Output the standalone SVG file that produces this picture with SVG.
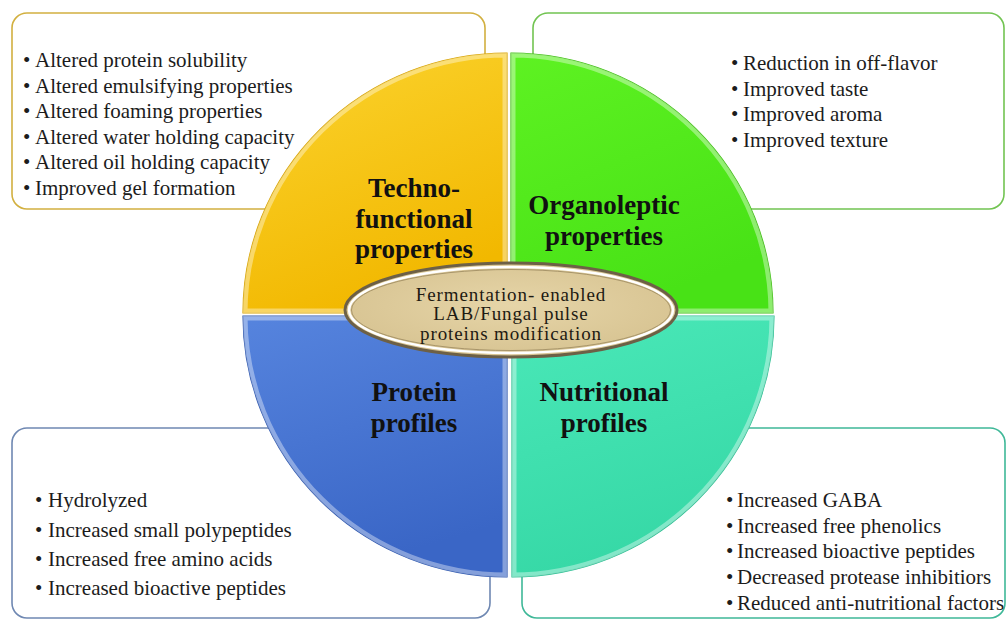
<svg xmlns="http://www.w3.org/2000/svg" width="1006" height="619" viewBox="0 0 1006 619">
  <defs>
    <style>
      .box { fill: #ffffff; stroke-width: 1.6; }
      .item { font-family: "Liberation Serif", "Times New Roman", serif; font-size: 21px; fill: #1c1c1c; }
      .title { font-family: "Liberation Serif", "Times New Roman", serif; font-size: 27px; font-weight: bold; fill: #111111; text-anchor: middle; }
      .core { font-family: "Liberation Serif", "Times New Roman", serif; font-size: 19px; letter-spacing: 0.9px; fill: #1e1a12; text-anchor: middle; }
      .bevel { fill: none; stroke: #ffffff; stroke-opacity: 0.38; stroke-width: 9; }
    </style>
    <linearGradient id="gYellow" x1="0" y1="0" x2="0.4" y2="1">
      <stop offset="0" stop-color="#fbd430"/>
      <stop offset="1" stop-color="#f2b800"/>
    </linearGradient>
    <linearGradient id="gGreen" x1="0" y1="0" x2="0.4" y2="1">
      <stop offset="0" stop-color="#5ef222"/>
      <stop offset="1" stop-color="#48e216"/>
    </linearGradient>
    <linearGradient id="gBlue" x1="0" y1="0" x2="0.3" y2="1">
      <stop offset="0" stop-color="#5684de"/>
      <stop offset="1" stop-color="#3a66c6"/>
    </linearGradient>
    <linearGradient id="gTeal" x1="0" y1="0" x2="0.3" y2="1">
      <stop offset="0" stop-color="#4ae8b8"/>
      <stop offset="1" stop-color="#36d8a6"/>
    </linearGradient>
    <radialGradient id="gCore" cx="0.5" cy="0.45" r="0.6">
      <stop offset="0" stop-color="#e6d5a8"/>
      <stop offset="1" stop-color="#d6c290"/>
    </radialGradient>
    <path id="pYellow" d="M507,313 L243,313 A264,260 0 0 1 507,53 Z"/>
    <path id="pGreen" d="M511,313 L511,53 A262,260 0 0 1 773,313 Z"/>
    <path id="pBlue" d="M507,316 L507,577 A264,261 0 0 1 243,316 Z"/>
    <path id="pTeal" d="M512,316 L774,316 A262,261 0 0 1 512,577 Z"/>
    <clipPath id="cYellow"><use href="#pYellow"/></clipPath>
    <clipPath id="cGreen"><use href="#pGreen"/></clipPath>
    <clipPath id="cBlue"><use href="#pBlue"/></clipPath>
    <clipPath id="cTeal"><use href="#pTeal"/></clipPath>
  </defs>

  <rect width="1006" height="619" fill="#ffffff"/>

  <!-- callout boxes sit behind the wheel -->
  <g id="box-techno">
    <rect class="box" x="12" y="13" width="473" height="196" rx="15" stroke="#d2b040"/>
    <text class="item" x="23" y="67"><tspan>•</tspan><tspan x="35">Altered protein solubility</tspan></text>
    <text class="item" x="23" y="93"><tspan>•</tspan><tspan x="35">Altered emulsifying properties</tspan></text>
    <text class="item" x="23" y="118"><tspan>•</tspan><tspan x="35">Altered foaming properties</tspan></text>
    <text class="item" x="23" y="144"><tspan>•</tspan><tspan x="35">Altered water holding capacity</tspan></text>
    <text class="item" x="23" y="169"><tspan>•</tspan><tspan x="35">Altered oil holding capacity</tspan></text>
    <text class="item" x="23" y="195"><tspan>•</tspan><tspan x="35">Improved gel formation</tspan></text>
  </g>

  <g id="box-organoleptic">
    <rect class="box" x="533" y="13" width="471" height="196" rx="15" stroke="#72c452"/>
    <text class="item" x="731" y="70"><tspan>•</tspan><tspan x="743">Reduction in off-flavor</tspan></text>
    <text class="item" x="731" y="96"><tspan>•</tspan><tspan x="743">Improved taste</tspan></text>
    <text class="item" x="731" y="121"><tspan>•</tspan><tspan x="743">Improved aroma</tspan></text>
    <text class="item" x="731" y="147"><tspan>•</tspan><tspan x="743">Improved texture</tspan></text>
  </g>

  <g id="box-protein">
    <rect class="box" x="12" y="428" width="478" height="190" rx="15" stroke="#6f88b2"/>
    <text class="item" x="35" y="507"><tspan>•</tspan><tspan x="48">Hydrolyzed</tspan></text>
    <text class="item" x="35" y="537"><tspan>•</tspan><tspan x="48">Increased small polypeptides</tspan></text>
    <text class="item" x="35" y="566"><tspan>•</tspan><tspan x="48">Increased free amino acids</tspan></text>
    <text class="item" x="35" y="595"><tspan>•</tspan><tspan x="48">Increased bioactive peptides</tspan></text>
  </g>

  <g id="box-nutritional">
    <rect class="box" x="522" y="428" width="483" height="190" rx="15" stroke="#3fb898"/>
    <text class="item" x="726" y="507"><tspan>•</tspan><tspan x="737">Increased GABA</tspan></text>
    <text class="item" x="726" y="533"><tspan>•</tspan><tspan x="737">Increased free phenolics</tspan></text>
    <text class="item" x="726" y="558"><tspan>•</tspan><tspan x="737">Increased bioactive peptides</tspan></text>
    <text class="item" x="726" y="584"><tspan>•</tspan><tspan x="737">Decreased protease inhibitiors</tspan></text>
    <text class="item" x="726" y="610"><tspan>•</tspan><tspan x="737">Reduced anti-nutritional factors</tspan></text>
  </g>

  <!-- four bevelled quadrants of the wheel -->
  <g id="sector-techno">
    <use href="#pYellow" fill="url(#gYellow)" stroke="#d9a400" stroke-width="1.2"/>
    <use href="#pYellow" class="bevel" clip-path="url(#cYellow)"/>
    <text class="title" x="414" y="197">Techno-</text>
    <text class="title" x="414" y="228">functional</text>
    <text class="title" x="414" y="258">properties</text>
  </g>

  <g id="sector-organoleptic">
    <use href="#pGreen" fill="url(#gGreen)" stroke="#3fbf12" stroke-width="1.2"/>
    <use href="#pGreen" class="bevel" clip-path="url(#cGreen)"/>
    <text class="title" x="604" y="214">Organoleptic</text>
    <text class="title" x="604" y="245">properties</text>
  </g>

  <g id="sector-protein">
    <use href="#pBlue" fill="url(#gBlue)" stroke="#2f58b0" stroke-width="1.2"/>
    <use href="#pBlue" class="bevel" clip-path="url(#cBlue)"/>
    <text class="title" x="414" y="401">Protein</text>
    <text class="title" x="414" y="432">profiles</text>
  </g>

  <g id="sector-nutritional">
    <use href="#pTeal" fill="url(#gTeal)" stroke="#2cbf92" stroke-width="1.2"/>
    <use href="#pTeal" class="bevel" clip-path="url(#cTeal)"/>
    <text class="title" x="604" y="401">Nutritional</text>
    <text class="title" x="604" y="432">profiles</text>
  </g>

  <!-- central hub -->
  <g id="hub">
    <ellipse cx="511" cy="310" rx="166" ry="47" fill="url(#gCore)" stroke="#6d6046" stroke-width="3"/>
    <ellipse cx="511" cy="310" rx="162" ry="43" fill="none" stroke="#ffffff" stroke-width="2.5"/>
    <ellipse cx="511" cy="310" rx="159.5" ry="40.5" fill="none" stroke="#a8956a" stroke-width="1"/>
    <text class="core" x="511" y="301">Fermentation- enabled</text>
    <text class="core" x="511" y="320">LAB/Fungal pulse</text>
    <text class="core" x="511" y="340">proteins modification</text>
  </g>

  <g id="connectors"></g>
</svg>
